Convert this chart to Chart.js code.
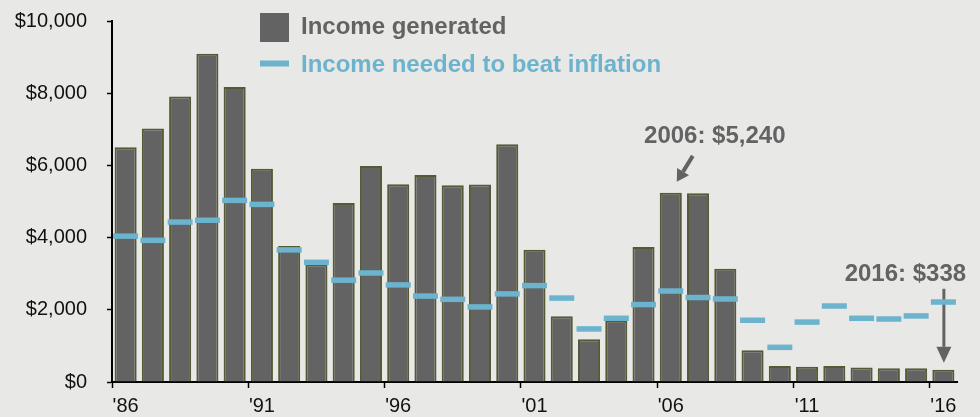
<!DOCTYPE html>
<html>
<head>
<meta charset="utf-8">
<script src="https://cdn.jsdelivr.net/npm/chart.js@4.4.1/dist/chart.umd.min.js"></script>
<style>
  html, body { margin: 0; padding: 0; background: #e8e8e6; }
  #wrap { width: 980px; height: 417px; position: relative; }
</style>
</head>
<body>
<div id="wrap"><canvas id="chart" width="980" height="417"></canvas></div>
<script>
// Annual income from a fixed deposit, 1986-2016
const years = [1986, 1987, 1988, 1989, 1990, 1991, 1992, 1993, 1994, 1995, 1996,
               1997, 1998, 1999, 2000, 2001, 2002, 2003, 2004, 2005, 2006,
               2007, 2008, 2009, 2010, 2011, 2012, 2013, 2014, 2015, 2016];
const incomeGenerated = [6500, 7020, 7910, 9090, 8170, 5910, 3770, 3260, 4960, 5985, 5475,
                         5735, 5450, 5470, 6585, 3665, 1820, 1185, 1700, 3740, 5240,
                         5230, 3140, 880, 445, 425, 440, 400, 380, 380, 338];
const incomeToBeatInflation = [4040, 3925, 4430, 4480, 5030, 4920, 3660, 3315, 2820, 3020, 2690,
                               2380, 2290, 2080, 2440, 2670, 2325, 1470, 1765, 2145, 2520,
                               2340, 2300, 1710, 960, 1660, 2105, 1765, 1745, 1830, 2215];
const xTickLabels = ["'86", "'91", "'96", "'01", "'06", "'11", "'16"];
const yTickValues = [0, 2000, 4000, 6000, 8000, 10000];
const calloutYears = [2006, 2016];

const seriesNames = ['Income generated', 'Income needed to beat inflation'];
const GREY = '#636363';
const BLUE = '#6cb3ce';
const FONT = '"Liberation Sans", Arial, Helvetica, sans-serif';

const money = v => '$' + Number(v).toLocaleString('en-US');

function drawArrow(ctx, x1, y1, x2, y2, lw, headLen, headW, color) {
  const ang = Math.atan2(y2 - y1, x2 - x1);
  const bx = x2 - headLen * Math.cos(ang);
  const by = y2 - headLen * Math.sin(ang);
  ctx.save();
  ctx.strokeStyle = color;
  ctx.fillStyle = color;
  ctx.lineWidth = lw;
  ctx.beginPath();
  ctx.moveTo(x1, y1);
  ctx.lineTo(bx, by);
  ctx.stroke();
  const px = -Math.sin(ang) * headW / 2, py = Math.cos(ang) * headW / 2;
  ctx.beginPath();
  ctx.moveTo(x2, y2);
  ctx.lineTo(bx + px, by + py);
  ctx.lineTo(bx - px, by - py);
  ctx.closePath();
  ctx.fill();
  ctx.restore();
}

// Page background
const backdrop = {
  id: 'backdrop',
  beforeDraw(chart) {
    const ctx = chart.ctx;
    ctx.save();
    ctx.fillStyle = '#e8e8e6';
    ctx.fillRect(0, 0, chart.width, chart.height);
    ctx.restore();
  }
};

// Value callouts with arrows, placed relative to the bar they describe
const calloutLayout = {
  2006: { tx: 44, ty: -50, from: [22, -37], to: [6, -11], lw: 4, head: 12, headW: 14 },
  2016: { tx: -38, ty: -89, from: [0.5, -81], to: [0.5, -7], lw: 3, head: 16, headW: 15 }
};
const callouts = {
  id: 'callouts',
  beforeDatasetsDraw(chart) {
    const ctx = chart.ctx;
    const yScale = chart.scales.y;
    const meta = chart.getDatasetMeta(0);
    calloutYears.forEach(yr => {
      const i = years.indexOf(yr);
      const bar = meta.data[i];
      const v = incomeGenerated[i];
      const x = bar.x;
      const top = yScale.getPixelForValue(v);
      const L = calloutLayout[yr];
      ctx.save();
      ctx.font = 'bold 24px ' + FONT;
      ctx.fillStyle = GREY;
      ctx.textAlign = 'center';
      ctx.textBaseline = 'alphabetic';
      ctx.fillText(yr + ': ' + money(v), x + L.tx, top + L.ty);
      ctx.restore();
      drawArrow(ctx, x + L.from[0], top + L.from[1], x + L.to[0], top + L.to[1], L.lw, L.head, L.headW, GREY);
    });
  }
};

// Stacked legend at top-left of the plot
const legendBlock = {
  id: 'legendBlock',
  afterDraw(chart) {
    const ctx = chart.ctx;
    ctx.save();
    ctx.font = 'bold 24px ' + FONT;
    ctx.textAlign = 'left';
    ctx.textBaseline = 'alphabetic';
    ctx.fillStyle = GREY;
    ctx.fillRect(260, 13, 29, 29);
    ctx.fillText(chart.data.datasets[0].label, 301, 34);
    ctx.strokeStyle = BLUE;
    ctx.lineWidth = 6;
    ctx.beginPath();
    ctx.moveTo(260, 63.5);
    ctx.lineTo(289, 63.5);
    ctx.stroke();
    ctx.fillStyle = BLUE;
    ctx.fillText(chart.data.datasets[1].label, 301, 71.5);
    ctx.restore();
  }
};

new Chart(document.getElementById('chart'), {
  type: 'bar',
  data: {
    labels: years,
    datasets: [
      {
        label: seriesNames[0],
        data: incomeGenerated,
        backgroundColor: GREY,
        borderColor: '#565a34',
        borderWidth: 2,
        barPercentage: 0.81,
        categoryPercentage: 1.0,
        order: 2
      },
      {
        type: 'line',
        label: seriesNames[1],
        data: incomeToBeatInflation,
        showLine: false,
        pointStyle: 'line',
        pointRadius: 12.5,
        pointHoverRadius: 12.5,
        pointBorderWidth: 5.5,
        borderColor: BLUE,
        backgroundColor: BLUE,
        order: 1
      }
    ]
  },
  options: {
    responsive: false,
    animation: false,
    events: [],
    layout: { padding: { top: 21, right: 23, left: 0, bottom: 0 } },
    plugins: { legend: { display: false }, tooltip: { enabled: false } },
    scales: {
      x: {
        offset: true,
        grid: {
          offset: true,
          drawOnChartArea: false,
          tickLength: 6,
          tickWidth: 1.5,
          tickColor: c => (c.index % 5 === 0 && c.index < years.length) ? '#000' : 'rgba(0,0,0,0)'
        },
        border: { color: '#000', width: 2 },
        ticks: {
          autoSkip: false,
          maxRotation: 0,
          minRotation: 0,
          padding: 6,
          color: '#111',
          font: { family: FONT, size: 20 },
          callback: (v, i) => (i % 5 === 0) ? xTickLabels[i / 5] : ''
        },
        afterFit: s => { s.height = 35; }
      },
      y: {
        min: 0,
        max: 10000,
        afterBuildTicks: s => { s.ticks = yTickValues.map(v => ({ value: v })); },
        grid: { drawOnChartArea: false, tickLength: 5, tickColor: '#000', tickWidth: 1.5 },
        border: { color: '#000', width: 2 },
        ticks: {
          padding: 20,
          color: '#111',
          font: { family: FONT, size: 20 },
          callback: v => money(v)
        },
        afterFit: s => { s.width = 112; s.paddingTop = 12; s.paddingBottom = 12; }
      }
    }
  },
  plugins: [backdrop, callouts, legendBlock]
});
</script>
</body>
</html>
